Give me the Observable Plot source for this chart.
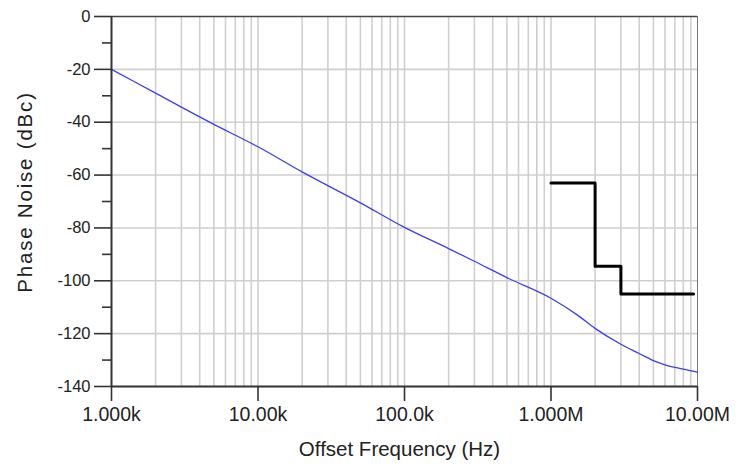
<!DOCTYPE html>
<html>
<head>
<meta charset="utf-8">
<script src="https://cdn.jsdelivr.net/npm/d3@7"></script>
<script src="https://cdn.jsdelivr.net/npm/@observablehq/plot@0.6"></script>
<style>
  html, body { margin: 0; padding: 0; background: #fff; }
  #chart svg { display: block; }
</style>
</head>
<body>
<div id="chart"></div>
<script>
// Phase noise curve (blue)
const noiseFreq = [1e3, 2e3, 4e3, 5e3, 1e4, 2e4, 5e4, 1e5, 2e5, 3e5, 5e5, 1e6, 1.5e6, 2e6, 3e6, 4e6, 5e6, 6e6, 8e6, 1e7];
const noiseDbc  = [-20, -29, -38, -40.8, -49.3, -58.8, -70.5, -79.8, -87.8, -92.6, -98.8, -106.6, -112.8, -118, -124, -127.5, -130.2, -131.8, -133.4, -134.6];

// Mask (black step line)
const maskFreq = [1e6, 2e6, 3e6, 9.4e6];
const maskDbc  = [-63, -94.5, -105, -105];

// Axis ticks
const xTicks = [1e3, 1e4, 1e5, 1e6, 1e7];
const xTickLabels = ["1.000k", "10.00k", "100.0k", "1.000M", "10.00M"];
const yTicks = [0, -20, -40, -60, -80, -100, -120, -140];
const yMinorTicks = [-10, -30, -50, -70, -90, -110, -130];

const noise = noiseFreq.map((f, i) => ({f, v: noiseDbc[i]}));
const mask = maskFreq.map((f, i) => ({f, v: maskDbc[i]}));
const gridX = d3.scaleLog().domain([1e3, 1e7]).ticks().filter(d => d > 1e3 && d < 1e7);
const labelMap = new Map(xTicks.map((t, i) => [t, xTickLabels[i]]));

const chart = Plot.plot({
  width: 742,
  height: 471,
  marginLeft: 111,
  marginRight: 45,
  marginTop: 16,
  marginBottom: 85,
  style: {fontFamily: "Liberation Sans, Arial, sans-serif", color: "#222", background: "#fff"},
  x: {type: "log", domain: [1e3, 1e7]},
  y: {domain: [-140, 0]},
  marks: [
    Plot.ruleX(gridX, {stroke: "#cfcfcf", strokeWidth: 1.6}),
    Plot.ruleY(yTicks.filter(d => d !== 0 && d !== -140), {stroke: "#cfcfcf", strokeWidth: 1.6}),
    Plot.ruleY([0], {stroke: "#444", strokeWidth: 1.5}),
    Plot.ruleX([1e7], {stroke: "#777", strokeWidth: 1}),
    Plot.line(noise, {x: "f", y: "v", stroke: "#3d3df5", strokeWidth: 1.3, curve: "monotone-x"}),
    Plot.line(mask, {x: "f", y: "v", curve: "step-after", stroke: "#000", strokeWidth: 3}),
    Plot.ruleX([1e3], {stroke: "#333", strokeWidth: 2}),
    Plot.ruleY([-140], {stroke: "#333", strokeWidth: 2}),
    Plot.axisX({
      ticks: xTicks,
      tickFormat: d => labelMap.get(d),
      tickSize: 15,
      tickPadding: 6,
      fontSize: 19.5,
      stroke: "#333",
      strokeWidth: 1.6,
      label: null
    }),
    Plot.axisY({
      ticks: yMinorTicks,
      tickSize: 9,
      text: null,
      stroke: "#333",
      strokeWidth: 1.6,
      label: null
    }),
    Plot.axisY({
      ticks: yTicks,
      tickSize: 17,
      tickPadding: 4,
      fontSize: 16.5,
      tickFormat: d => d === 0 ? "0" : String(d),
      stroke: "#333",
      strokeWidth: 1.6,
      label: null
    }),
    Plot.text(["Offset Frequency (Hz)"], {
      frameAnchor: "bottom", dx: -5, dy: 69, text: d => d, fontSize: 20.5, fill: "#222"
    }),
    Plot.text(["Phase Noise (dBc)"], {
      frameAnchor: "left", textAnchor: "middle", dx: -86, dy: -9.5, rotate: -90,
      text: d => d, fontSize: 20.5, fill: "#222", className: "ytitle"
    })
  ]
});
d3.select(chart).selectAll(".ytitle text").style("letter-spacing", "1.8px");
document.getElementById("chart").appendChild(chart);
</script>
</body>
</html>
